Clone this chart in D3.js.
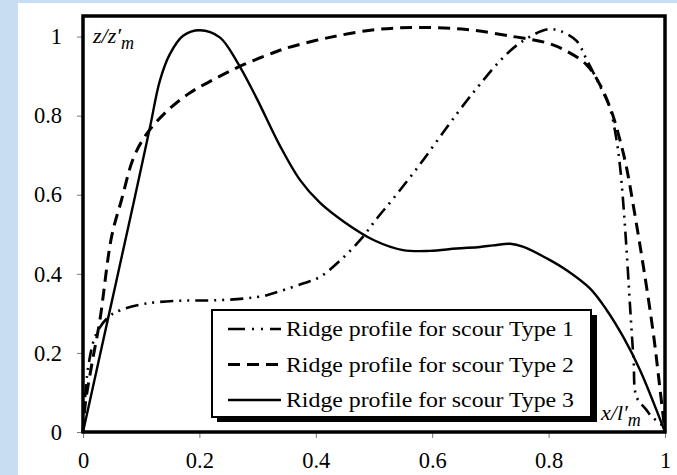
<!DOCTYPE html>
<html>
<head>
<meta charset="utf-8">
<script src="https://cdn.jsdelivr.net/npm/d3@7"></script>
<style>
  body { margin: 0; background: #c9ddf2; }
  svg { display: block; }
</style>
</head>
<body>
<div id="wrapper"></div>
<script>
// ridge profiles
const type1X = [0, 0.009, 0.023, 0.044, 0.064, 0.109, 0.167, 0.224, 0.281, 0.316, 0.338, 0.379, 0.407, 0.442, 0.476, 0.505, 0.533, 0.579, 0.625, 0.659, 0.682, 0.716, 0.751, 0.797, 0.82, 0.848, 0.865, 0.888, 0.905, 0.917, 0.923, 0.928, 0.934, 0.94, 0.946, 0.951, 0.968, 0.977, 0.994, 1.0]
const type1Y = [0, 0.165, 0.249, 0.291, 0.308, 0.325, 0.332, 0.333, 0.338, 0.346, 0.356, 0.376, 0.392, 0.434, 0.485, 0.54, 0.59, 0.677, 0.77, 0.837, 0.879, 0.938, 0.984, 1.018, 1.014, 0.989, 0.943, 0.876, 0.821, 0.736, 0.668, 0.584, 0.46, 0.317, 0.182, 0.089, 0.056, 0.039, 0.018, 0]
const type2X = [0, 0.004, 0.015, 0.029, 0.049, 0.066, 0.087, 0.109, 0.144, 0.184, 0.224, 0.27, 0.327, 0.35, 0.424, 0.505, 0.579, 0.659, 0.739, 0.797, 0.831, 0.865, 0.888, 0.908, 0.923, 0.934, 0.946, 0.963, 0.98, 0.991, 1.0]
const type2Y = [0, 0.072, 0.17, 0.283, 0.493, 0.586, 0.694, 0.753, 0.811, 0.858, 0.891, 0.925, 0.959, 0.971, 0.998, 1.018, 1.023, 1.018, 1.0, 0.984, 0.963, 0.929, 0.879, 0.811, 0.736, 0.668, 0.569, 0.417, 0.249, 0.114, 0]
const type3X = [0, 0.045, 0.087, 0.115, 0.132, 0.149, 0.172, 0.201, 0.235, 0.264, 0.298, 0.338, 0.373, 0.407, 0.45, 0.5, 0.55, 0.596, 0.642, 0.682, 0.705, 0.734, 0.757, 0.797, 0.831, 0.871, 0.9, 0.928, 0.957, 1.0]
const type3Y = [0, 0.30, 0.58, 0.77, 0.888, 0.955, 1.002, 1.016, 0.998, 0.938, 0.845, 0.725, 0.637, 0.58, 0.53, 0.485, 0.46, 0.458, 0.464, 0.468, 0.472, 0.476, 0.468, 0.439, 0.409, 0.363, 0.308, 0.241, 0.157, 0]
const xTicks = [0, 0.2, 0.4, 0.6, 0.8, 1]
const yTicks = [0, 0.2, 0.4, 0.6, 0.8, 1]
const legendLabels = ["Ridge profile for scour Type 1", "Ridge profile for scour Type 2", "Ridge profile for scour Type 3"]

const serif = "Liberation Serif, Times New Roman, serif"

function drawChart() {
    const width = 677
    let dimensions = {
        width: width,
        height: 475,
        margin: { top: 16, right: 12, bottom: 43, left: 83 },
    }
    dimensions.boundedWidth = dimensions.width - dimensions.margin.left - dimensions.margin.right
    dimensions.boundedHeight = dimensions.height - dimensions.margin.top - dimensions.margin.bottom

    const wrapper = d3.select("#wrapper").append("svg")
        .attr("width", dimensions.width)
        .attr("height", dimensions.height)
        .attr("font-family", serif)
        .attr("font-size", 22)

    // white sheet over the blue slide background
    wrapper.append("rect")
        .attr("x", 18).attr("y", 3)
        .attr("width", dimensions.width - 18).attr("height", dimensions.height - 3)
        .attr("fill", "#fff")

    const bounds = wrapper.append("g")
        .attr("transform", `translate(${dimensions.margin.left},${dimensions.margin.top})`)

    const xScaler = d3.scaleLinear().domain([0, 1]).range([0, dimensions.boundedWidth])
    const yScaler = d3.scaleLinear().domain([0, 1.052]).range([dimensions.boundedHeight, 0])

    // axes
    const xAxis = bounds.append("g")
        .attr("transform", `translate(0,${dimensions.boundedHeight})`)
        .call(d3.axisBottom(xScaler).tickValues(xTicks).tickSize(6).tickPadding(14).tickFormat(d3.format("~g")))
    const yAxis = bounds.append("g")
        .call(d3.axisLeft(yScaler).tickValues(yTicks).tickSize(6).tickPadding(15).tickFormat(d3.format("~g")))
    ;[xAxis, yAxis].forEach(ax => {
        ax.attr("font-family", serif).attr("font-size", 22.5)
        ax.select(".domain").remove()
        ax.selectAll(".tick line").attr("stroke", "#777")
        ax.selectAll(".tick text").attr("fill", "#000")
    })
    xAxis.selectAll(".tick text").attr("dy", "0.71em")

    // curves
    const lineGen = d3.line()
        .x(d => xScaler(d[0]))
        .y(d => yScaler(d[1]))
        .curve(d3.curveCatmullRom.alpha(0.5))

    const series = [
        { xs: type1X, ys: type1Y, dash: "13,6,2,6,2,6", w: 2.6 },
        { xs: type2X, ys: type2Y, dash: "12,7", w: 3 },
        { xs: type3X, ys: type3Y, dash: null, w: 2.4 },
    ]
    series.forEach(s => {
        bounds.append("path")
            .datum(s.xs.map((x, i) => [x, s.ys[i]]))
            .attr("d", lineGen)
            .attr("fill", "none")
            .attr("stroke", "#000")
            .attr("stroke-width", s.w)
            .attr("stroke-dasharray", s.dash)
    })

    // frame
    bounds.append("rect")
        .attr("width", dimensions.boundedWidth)
        .attr("height", dimensions.boundedHeight)
        .attr("fill", "none")
        .attr("stroke", "#000")
        .attr("stroke-width", 3.5)

    // axis labels
    const zLabel = bounds.append("text")
        .attr("x", 10).attr("y", 27)
        .attr("font-style", "italic")
    zLabel.append("tspan").text("z/z\u2032")
    zLabel.append("tspan").text("m").attr("dy", 6).attr("font-size", 18)

    const xLabel = bounds.append("text")
        .attr("x", 518).attr("y", 404)
        .attr("font-style", "italic")
    xLabel.append("tspan").text("x/l\u2032")
    xLabel.append("tspan").text("m").attr("dy", 6).attr("font-size", 18)

    // legend
    const legend = wrapper.append("g").attr("transform", "translate(212,310)")
    legend.append("rect")
        .attr("x", 5).attr("y", 5).attr("width", 380).attr("height", 107)
        .attr("fill", "#000")
    legend.append("rect")
        .attr("width", 379).attr("height", 107)
        .attr("fill", "#fff").attr("stroke", "#000").attr("stroke-width", 2)
    legendLabels.forEach((label, i) => {
        const y = 19 + i * 35.5
        legend.append("line")
            .attr("x1", 16).attr("x2", 69).attr("y1", y).attr("y2", y)
            .attr("stroke", "#000")
            .attr("stroke-width", series[i].w)
            .attr("stroke-dasharray", i === 0 ? "17,7,2,7,2,7" : series[i].dash)
        legend.append("text")
            .attr("x", 74).attr("y", y + 7)
            .attr("textLength", 288)
            .attr("lengthAdjust", "spacingAndGlyphs")
            .text(label)
    })
}
drawChart()
</script>
</body>
</html>
